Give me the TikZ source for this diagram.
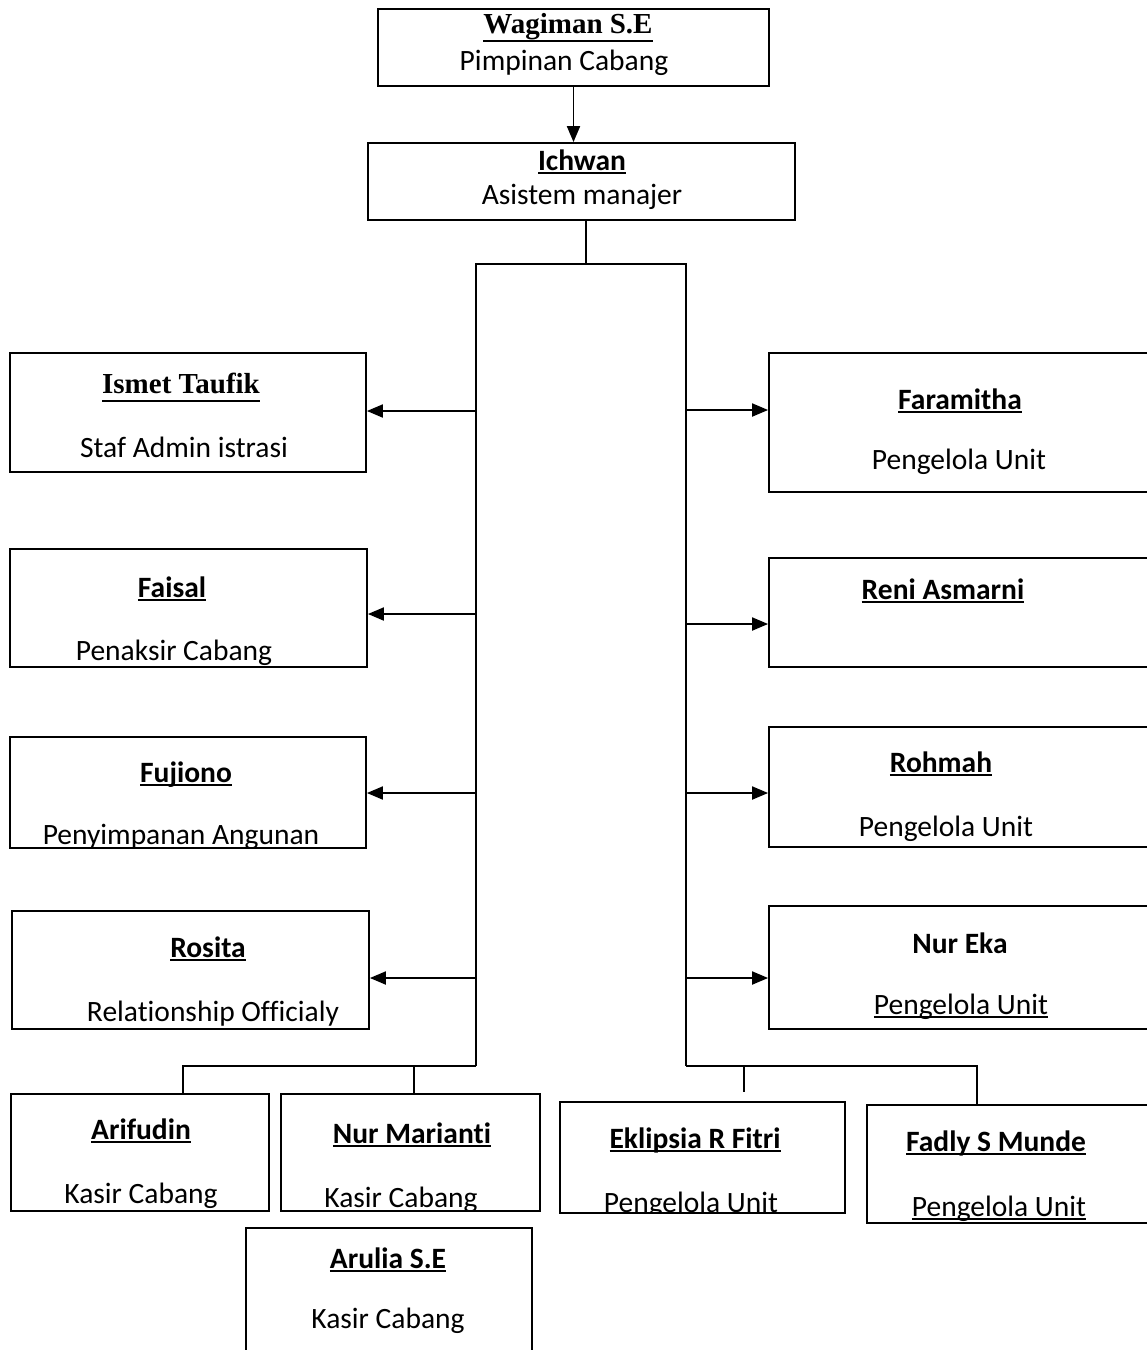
\documentclass[tikz,border=0pt]{standalone}
\usepackage{fontspec}
\setmainfont{Carlito}[Ligatures=NoCommon]
\newfontfamily\tnr{Liberation Serif}[Ligatures=NoCommon]
\usetikzlibrary{arrows.meta}
\newsavebox\myulbox
\newcommand\ulc[1]{\sbox\myulbox{#1}\rlap{\rule[-0.13em]{\wd\myulbox}{0.065em}}\usebox\myulbox}
\newcommand\uls[1]{\sbox\myulbox{#1}\rlap{\rule[-0.3em]{\wd\myulbox}{0.065em}}\usebox\myulbox}
\begin{document}
\begin{tikzpicture}[x=1pt,y=-1pt,
  box/.style={draw,line width=1.8pt,inner sep=0pt},
  txt/.style={anchor=base,inner sep=0pt,font=\fontsize{29.5}{33}\selectfont},
  ttl/.style={anchor=base,inner sep=0pt,font=\fontsize{29.5}{33}\selectfont\bfseries},
  sttl/.style={anchor=base,inner sep=0pt,font=\fontsize{29}{33}\selectfont\tnr\bfseries},
  ln/.style={line width=1.9pt},
  arr/.style={line width=1.9pt,-{Triangle[length=16pt,width=13pt]}}]
\useasboundingbox (0,0) rectangle (1147,1350);
% boxes
\node[box,minimum width=391pt,minimum height=77pt] (wag) at (573.5,47.5) {};
\node[box,minimum width=427pt,minimum height=77pt] (ich) at (581.5,181.5) {};
\node[box,minimum width=356pt,minimum height=119pt] (ism) at (188,412.5) {};
\node[box,minimum width=357pt,minimum height=118pt] (fai) at (188.5,608) {};
\node[box,minimum width=356pt,minimum height=111pt] (fuj) at (188,792.5) {};
\node[box,minimum width=357pt,minimum height=118pt] (ros) at (190.5,970) {};
\node[box,minimum width=383pt,minimum height=139pt] (far) at (960.5,422.5) {};
\node[box,minimum width=383pt,minimum height=109pt] (ren) at (960.5,612.5) {};
\node[box,minimum width=383pt,minimum height=120pt] (roh) at (960.5,787) {};
\node[box,minimum width=383pt,minimum height=123pt] (nek) at (960.5,967.5) {};
\node[box,minimum width=258pt,minimum height=117pt] (ari) at (140,1152.5) {};
\node[box,minimum width=259pt,minimum height=117pt] (nma) at (410.5,1152.5) {};
\node[box,minimum width=286pt,minimum height=128pt] (aru) at (389,1292) {};
\node[box,minimum width=285pt,minimum height=111pt] (ekl) at (702.5,1157.5) {};
\node[box,minimum width=285pt,minimum height=118pt] (fad) at (1009.5,1164) {};
% texts
\node[sttl] (t1) at (568,33) {\uls{Wagiman S.E}};
\node[txt] (s1) at (564,70) {Pimpinan Cabang};
\node[ttl] (t2) at (582,170) {\ulc{Ichwan}};
\node[txt] (s2) at (582,204) {Asistem manajer};
\node[sttl] (t3) at (181,393) {\uls{Ismet Taufik}};
\node[txt] (s3) at (184,457) {Staf Admin istrasi};
\node[ttl] (t4) at (172,597) {\ulc{Faisal}};
\node[txt] (s4) at (174,660) {Penaksir Cabang};
\node[ttl] (t5) at (186,782) {\ulc{Fujiono}};
\begin{scope}
\clip (fuj.south west) rectangle (fuj.north east);
\node[txt] (s5) at (181,844) {Penyimpanan Angunan};
\end{scope}
\node[ttl] (t6) at (208,957) {\ulc{Rosita}};
\node[txt] (s6) at (213,1021) {Relationship Officialy};
\node[ttl] (t7) at (960,409) {\ulc{Faramitha}};
\node[txt] (s7) at (959,469) {Pengelola Unit};
\node[ttl] (t8) at (943,599) {\ulc{Reni Asmarni}};
\node[ttl] (t9) at (941,772) {\ulc{Rohmah}};
\node[txt] (s9) at (946,836) {Pengelola Unit};
\node[ttl] (t10) at (960,953) {Nur Eka};
\node[txt] (s10) at (961,1014) {\ulc{Pengelola Unit}};
\node[ttl] (t11) at (141,1139) {\ulc{Arifudin}};
\node[txt] (s11) at (141,1203) {Kasir Cabang};
\node[ttl] (t12) at (412,1143) {\ulc{Nur Marianti}};
\begin{scope}
\clip (nma.south west) rectangle (nma.north east);
\node[txt] (s12) at (401,1207) {Kasir Cabang};
\end{scope}
\node[ttl] (t13) at (388,1268) {\ulc{Arulia S.E}};
\node[txt] (s13) at (388,1328) {Kasir Cabang};
\node[ttl] (t14) at (695,1148) {\ulc{Eklipsia R Fitri}};
\begin{scope}
\clip (ekl.south west) rectangle (ekl.north east);
\node[txt] (s14) at (691,1212) {Pengelola Unit};
\end{scope}
\node[ttl] (t15) at (996,1151) {\ulc{Fadly S Munde}};
\node[txt] (s15) at (999,1216) {\ulc{Pengelola Unit}};
% connectors
\coordinate (tL) at (476,264);
\coordinate (tR) at (686,264);
\coordinate (bL) at (476,1066);
\coordinate (bR) at (686,1066);
\draw[arr] (wag.south) -- (wag.south |- ich.north);
\draw[ln] ([xshift=4.5pt]ich.south) -- ([xshift=4.5pt]ich.south |- tL);
\draw[ln] (bL) -- (tL) -- (tR) -- (bR);
\draw[arr] (tL |- 0,411) -- (ism.east |- 0,411);
\draw[arr] (tL |- 0,614) -- (fai.east |- 0,614);
\draw[arr] (tL |- 0,793) -- (fuj.east |- 0,793);
\draw[arr] (tL |- 0,978) -- (ros.east |- 0,978);
\draw[arr] (tR |- 0,410) -- (far.west |- 0,410);
\draw[arr] (tR |- 0,624) -- (ren.west |- 0,624);
\draw[arr] (tR |- 0,793) -- (roh.west |- 0,793);
\draw[arr] (tR |- 0,978) -- (nek.west |- 0,978);
\draw[ln] (bL) -- ([xshift=43pt]ari.north |- bL) -- ([xshift=43pt]ari.north);
\draw[ln] ([xshift=3.5pt]nma.north |- bL) -- ([xshift=3.5pt]nma.north);
\draw[ln] (bR) -- ([xshift=-32.5pt]fad.north |- bR) -- ([xshift=-32.5pt]fad.north);
\draw[ln] ([xshift=41.5pt]ekl.north |- bR) -- ([xshift=41.5pt,yshift=9pt]ekl.north);
\end{tikzpicture}
\end{document}
